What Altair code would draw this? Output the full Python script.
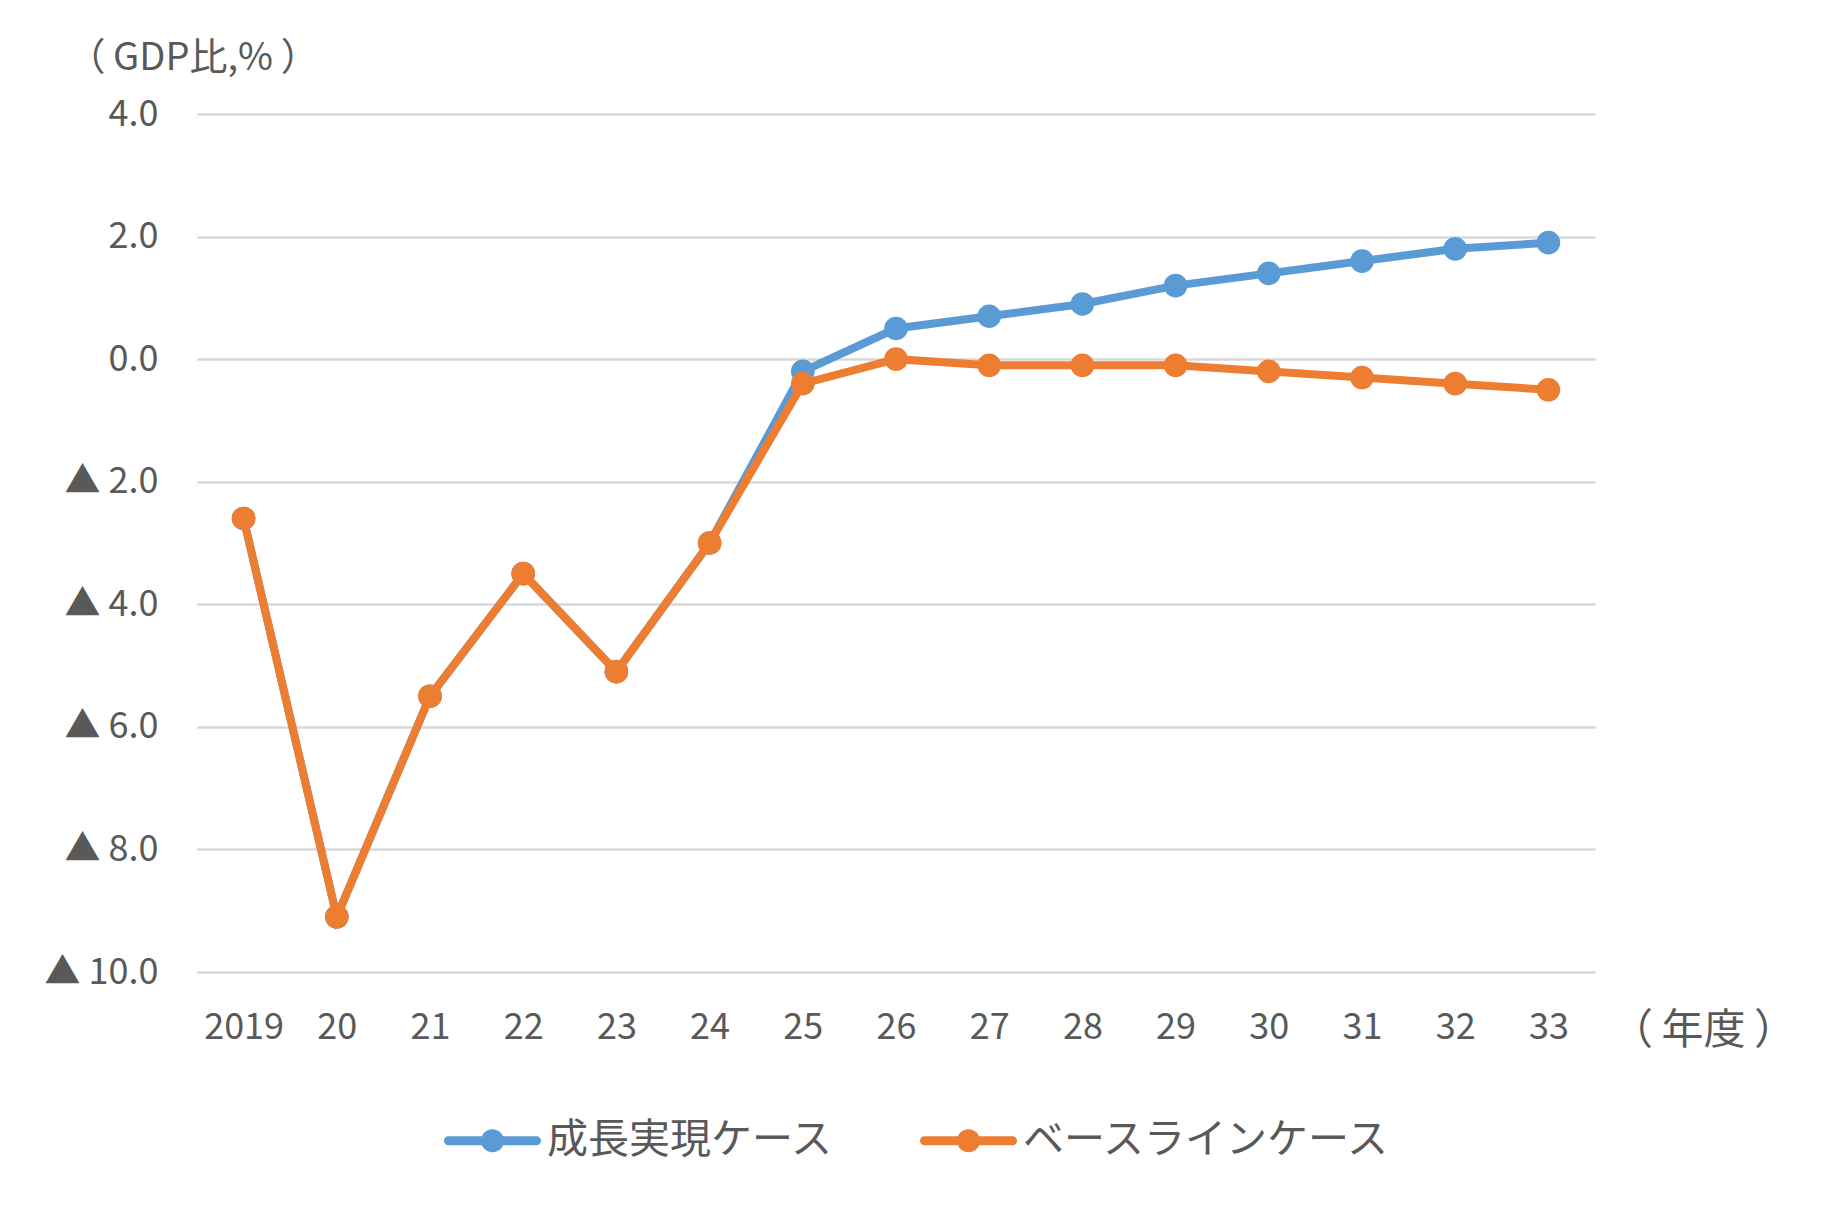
import altair as alt
import pandas as pd

years = ["2019", "20", "21", "22", "23", "24", "25", "26", "27", "28", "29", "30", "31", "32", "33"]
growth = [-2.6, -9.1, -5.5, -3.5, -5.1, -3.0, -0.2, 0.5, 0.7, 0.9, 1.2, 1.4, 1.6, 1.8, 1.9]
baseline = [-2.6, -9.1, -5.5, -3.5, -5.1, -3.0, -0.4, 0.0, -0.1, -0.1, -0.1, -0.2, -0.3, -0.4, -0.5]
series_names = ["成長実現ケース", "ベースラインケース"]
colors = ["#5B9BD5", "#ED7D31"]
y_ticks = [-10, -8, -6, -4, -2, 0, 2, 4]

rows = []
for name, vals in zip(series_names, [growth, baseline]):
    for yr, v in zip(years, vals):
        rows.append({"year": yr, "value": v, "series": name})
df = pd.DataFrame(rows)

FONT = "Noto Sans CJK JP"
TXT = "#595959"

legend_path = (
    "M-0.907,-0.093 L0.907,-0.093 A0.093,0.093 0 0,1 0.907,0.093 "
    "L-0.907,0.093 A0.093,0.093 0 0,1 -0.907,-0.093 Z "
    "M-0.237,0 A0.237,0.237 0 1,1 0.237,0 A0.237,0.237 0 1,1 -0.237,0 Z"
)

x = alt.X(
    "year:N",
    sort=years,
    scale=alt.Scale(type="point", padding=0.5),
    axis=alt.Axis(
        title="（\u2009年度\u2009）",
        titleFont=FONT, titleFontSize=42, titleFontWeight="normal", titleColor=TXT,
        titleX=1506, titleY=58, titleAlign="center", titleBaseline="middle",
        labelFont=FONT, labelFontSize=36, labelColor=TXT, labelAngle=0,
        labelBaseline="alphabetic", labelPadding=66,
        domain=False, ticks=False, grid=False,
    ),
)
y = alt.Y(
    "value:Q",
    scale=alt.Scale(domain=[-10, 4], nice=False, zero=False),
    axis=alt.Axis(
        values=y_ticks,
        labelExpr="datum.value < 0 ? '▲ ' + format(-datum.value, '.1f') : format(datum.value, '.1f')",
        title="（\u2009GDP比,%\u2009）",
        titleFont=FONT, titleFontSize=38, titleFontWeight="normal", titleColor=TXT,
        titleAngle=0, titleX=-130, titleY=-56, titleAlign="left", titleBaseline="middle",
        labelFont=FONT, labelFontSize=36, labelColor=TXT, labelPadding=39,
        labelBaseline="middle",
        domain=False, ticks=False, grid=True, gridColor="#D9D9D9", gridWidth=2.5,
    ),
)
color = alt.Color(
    "series:N",
    scale=alt.Scale(domain=series_names, range=colors),
    legend=alt.Legend(
        title=None, orient="none", legendX=247, legendY=978, direction="horizontal",
        symbolType=legend_path, symbolSize=9409, symbolStrokeWidth=0, symbolOpacity=1,
        labelFont=FONT, labelFontSize=41, labelColor=TXT, labelOffset=6,
        columnPadding=86, labelLimit=500,
    ),
)

layers = []
for name in series_names:
    layers.append(
        alt.Chart(df)
        .transform_filter(alt.datum.series == name)
        .mark_line(strokeWidth=8, point=alt.OverlayMarkDef(filled=True, size=560, opacity=1))
        .encode(x=x, y=y, color=color)
    )

chart = (
    alt.layer(*layers)
    .properties(
        width=1398,
        height=858,
        autosize=alt.AutoSizeParams(type="none"),
        padding={"left": 189, "top": 106, "right": 223, "bottom": 237},
    )
    .configure_view(stroke=None)
)

chart.save("out.html", embed_options={"renderer": "svg", "actions": False})
